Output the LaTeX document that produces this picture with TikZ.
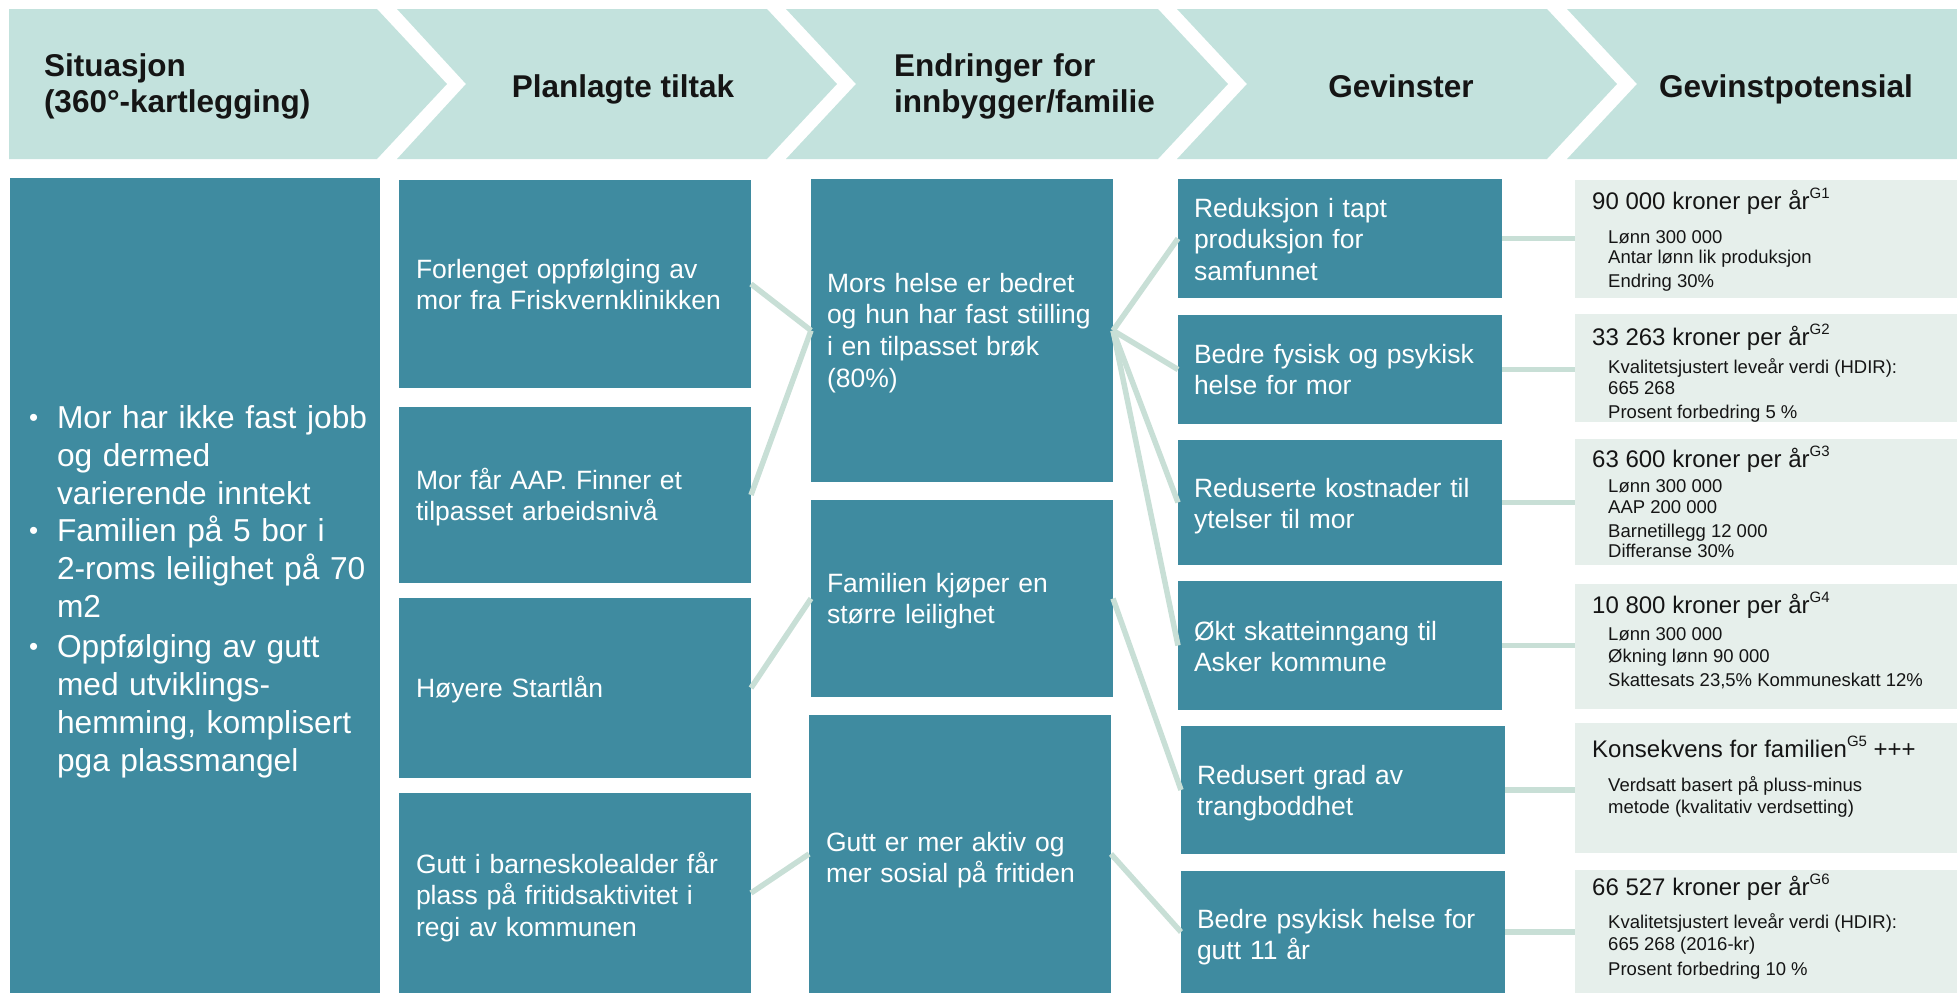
\documentclass[tikz,border=0pt]{standalone}
\usepackage{fontspec}
\setmainfont{Liberation Sans}
\usetikzlibrary{fit}
\definecolor{teal1}{HTML}{3F8BA0}
\definecolor{hdr}{HTML}{C3E2DD}
\definecolor{pale}{HTML}{E6EFEB}
\definecolor{conn}{HTML}{C8DFD6}
\definecolor{ink}{HTML}{151515}
\newcommand{\Gsup}[1]{\raisebox{0.42em}{\fontsize{15}{15}\selectfont #1}}
\tikzset{
 tbox/.style={fill=teal1, draw=none, inner sep=0pt, outer sep=0pt},
 pbox/.style={fill=pale, draw=none, inner sep=0pt, outer sep=0pt},
 hshape/.style={fill=hdr, draw=none},
 wtxt/.style={anchor=base west, inner sep=0pt, outer sep=0pt, text=white, align=left, text width=345pt, font=\fontsize{26.5}{31.8}\selectfont},
 btxt/.style={wtxt, font=\fontsize{31.7}{38.2}\selectfont},
 htxt/.style={inner sep=0pt, outer sep=0pt, text=ink, font=\bfseries\fontsize{31.5}{36}\selectfont},
 ptitle/.style={anchor=base west, inner sep=0pt, text=ink, font=\fontsize{24}{28}\selectfont},
 psub/.style={anchor=base west, inner sep=0pt, text=ink, font=\fontsize{18.5}{22}\selectfont},
 link/.style={draw=conn, line width=5.5pt},
}
\begin{document}
\begin{tikzpicture}[x=1pt,y=-1pt]
\useasboundingbox (0,0) rectangle (1957,993);
% header chevrons
\fill[hshape] (9,9) -- (377,9) -- (447,84) -- (377,159) -- (9,159) -- cycle;
\fill[hshape] (397,9) -- (767,9) -- (837,84) -- (767,159) -- (397,159) -- (466,84) -- cycle;
\fill[hshape] (786,9) -- (1158,9) -- (1228,84) -- (1158,159) -- (786,159) -- (856,84) -- cycle;
\fill[hshape] (1177,9) -- (1547,9) -- (1617,84) -- (1547,159) -- (1177,159) -- (1247,84) -- cycle;
\fill[hshape] (1567,9) -- (1957,9) -- (1957,159) -- (1567,159) -- (1637,84) -- cycle;
\node[htxt, anchor=base west, align=left, text width=330pt] (h1) at (44,76) {Situasjon\\(360°-kartlegging)};
\node[htxt, anchor=base] (h2) at (623,97) {Planlagte tiltak};
\node[htxt, anchor=base west, align=left, text width=330pt] (h3) at (894,76) {Endringer for\\innbygger/familie};
\node[htxt, anchor=base] (h4) at (1401,97) {Gevinster};
\node[htxt, anchor=base] (h5) at (1786,97) {Gevinstpotensial};
% column 1
\node[tbox, fit={(10,178) (380,993)}] (s1) {};
% column 2
\node[tbox, fit={(399,180) (751,388)}] (t1) {};
\node[tbox, fit={(399,407) (751,583)}] (t2) {};
\node[tbox, fit={(399,598) (751,778)}] (t3) {};
\node[tbox, fit={(399,793) (751,993)}] (t4) {};
% column 3
\node[tbox, fit={(811,179) (1113,482)}] (e1) {};
\node[tbox, fit={(811,500) (1113,697)}] (e2) {};
\node[tbox, fit={(809,715) (1111,993)}] (e3) {};
% column 4
\node[tbox, fit={(1178,179) (1502,298)}] (g1) {};
\node[tbox, fit={(1178,315) (1502,424)}] (g2) {};
\node[tbox, fit={(1178,440) (1502,565)}] (g3) {};
\node[tbox, fit={(1178,581) (1502,710)}] (g4) {};
\node[tbox, fit={(1181,726) (1505,854)}] (g5) {};
\node[tbox, fit={(1181,871) (1505,993)}] (g6) {};
% column 5
\node[pbox, fit={(1575,180) (1957,298)}] (p1) {};
\node[pbox, fit={(1575,314) (1957,422)}] (p2) {};
\node[pbox, fit={(1575,439) (1957,565)}] (p3) {};
\node[pbox, fit={(1575,584) (1957,709)}] (p4) {};
\node[pbox, fit={(1575,723) (1957,853)}] (p5) {};
\node[pbox, fit={(1575,870) (1957,993)}] (p6) {};
% connectors
\draw[link] (t1.east) -- (e1.west);
\draw[link] (t2.east) -- (e1.west);
\draw[link] (t3.east) -- (e2.west);
\draw[link] (t4.east) -- (e3.west);
\draw[link] (e1.east) -- (g1.west);
\draw[link] (e1.east) -- (g2.west);
\draw[link] (e1.east) -- (g3.west);
\draw[link] (e1.east) -- (g4.west);
\draw[link] (e2.east) -- (g5.west);
\draw[link] (e3.east) -- (g6.west);
\draw[link] (g1.east) -- (p1.west |- g1.east);
\draw[link] (g2.east) -- (p2.west |- g2.east);
\draw[link] (g3.east) -- (p3.west |- g3.east);
\draw[link] (g4.east) -- (p4.west |- g4.east);
\draw[link] (g5.east) -- (p5.west |- g5.east);
\draw[link] (g6.east) -- (p6.west |- g6.east);
% column 1 text
\node[btxt, text width=20pt, font=\fontsize{26}{38.2}\selectfont] (b1) at (29,426) {•};
\node[btxt, text width=20pt, font=\fontsize{26}{38.2}\selectfont] (b2) at (29,539) {•};
\node[btxt, text width=20pt, font=\fontsize{26}{38.2}\selectfont] (b3) at (29,655) {•};
\node[btxt] (s1a) at (57,428) {Mor har ikke fast jobb\\og dermed\\varierende inntekt};
\node[btxt] (s1b) at (57,541) {Familien på 5 bor i\\2-roms leilighet på 70\\m2};
\node[btxt] (s1c) at (57,657) {Oppfølging av gutt\\med utviklings-\\hemming, komplisert\\pga plassmangel};
% column 2 text
\node[wtxt] (t1x) at (416,278) {Forlenget oppfølging av\\mor fra Friskvernklinikken};
\node[wtxt] (t2x) at (416,489) {Mor får AAP. Finner et\\tilpasset arbeidsnivå};
\node[wtxt] (t3x) at (416,697) {Høyere Startlån};
\node[wtxt] (t4x) at (416,873) {Gutt i barneskolealder får\\plass på fritidsaktivitet i\\regi av kommunen};
% column 3 text
\node[wtxt] (e1x) at (827,292) {Mors helse er bedret\\og hun har fast stilling\\i en tilpasset brøk\\(80\%)};
\node[wtxt] (e2x) at (827,592) {Familien kjøper en\\større leilighet};
\node[wtxt] (e3x) at (826,851) {Gutt er mer aktiv og\\mer sosial på fritiden};
% column 4 text
\node[wtxt] (g1x) at (1194,217) {Reduksjon i tapt\\produksjon for\\samfunnet};
\node[wtxt] (g2x) at (1194,363) {Bedre fysisk og psykisk\\helse for mor};
\node[wtxt] (g3x) at (1194,497) {Reduserte kostnader til\\ytelser til mor};
\node[wtxt] (g4x) at (1194,640) {Økt skatteinngang til\\Asker kommune};
\node[wtxt] (g5x) at (1197,784) {Redusert grad av\\trangboddhet};
\node[wtxt] (g6x) at (1197,928) {Bedre psykisk helse for\\gutt 11 år};
% column 5 text
\node[ptitle] (p1t) at (1592,209) {90 000 kroner per år\Gsup{G1}};
\node[psub] (p1a) at (1608,243) {Lønn 300 000};
\node[psub] (p1b) at (1608,263) {Antar lønn lik produksjon};
\node[psub] (p1c) at (1608,287) {Endring 30\%};
\node[ptitle] (p2t) at (1592,345) {33 263 kroner per år\Gsup{G2}};
\node[psub] (p2a) at (1608,373) {Kvalitetsjustert leveår verdi (HDIR):};
\node[psub] (p2b) at (1608,394) {665 268};
\node[psub] (p2c) at (1608,418) {Prosent forbedring 5 \%};
\node[ptitle] (p3t) at (1592,467) {63 600 kroner per år\Gsup{G3}};
\node[psub] (p3a) at (1608,492) {Lønn 300 000};
\node[psub] (p3b) at (1608,513) {AAP 200 000};
\node[psub] (p3c) at (1608,537) {Barnetillegg 12 000};
\node[psub] (p3d) at (1608,557) {Differanse 30\%};
\node[ptitle] (p4t) at (1592,613) {10 800 kroner per år\Gsup{G4}};
\node[psub] (p4a) at (1608,640) {Lønn 300 000};
\node[psub] (p4b) at (1608,662) {Økning lønn 90 000};
\node[psub] (p4c) at (1608,686) {Skattesats 23,5\% Kommuneskatt 12\%};
\node[ptitle] (p5t) at (1592,757) {Konsekvens for familien\Gsup{G5} +++};
\node[psub] (p5a) at (1608,791) {Verdsatt basert på pluss-minus};
\node[psub] (p5b) at (1608,813) {metode (kvalitativ verdsetting)};
\node[ptitle] (p6t) at (1592,895) {66 527 kroner per år\Gsup{G6}};
\node[psub] (p6a) at (1608,928) {Kvalitetsjustert leveår verdi (HDIR):};
\node[psub] (p6b) at (1608,950) {665 268 (2016-kr)};
\node[psub] (p6c) at (1608,975) {Prosent forbedring 10 \%};
\end{tikzpicture}
\end{document}
